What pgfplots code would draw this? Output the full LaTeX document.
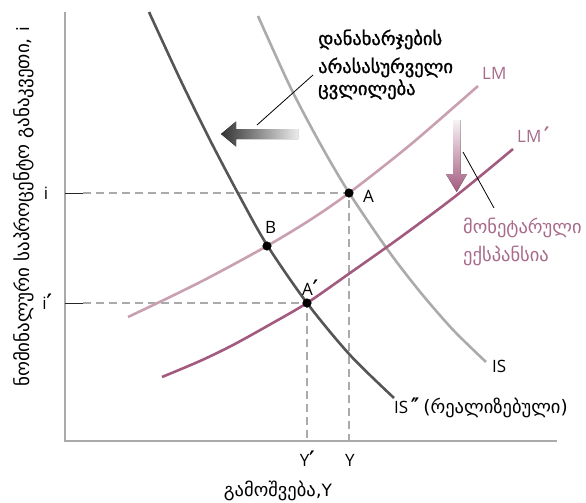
\documentclass[border=0pt]{standalone}
\usepackage{fontspec}
\setmainfont{Open Sans}
\newfontfamily\geo{DejaVu Sans}
\newfontfamily\geob[FakeBold=1.3]{DejaVu Sans}
\usepackage{pgfplots}
\pgfplotsset{compat=1.18}
\definecolor{lmlight}{HTML}{C9A0B2}
\definecolor{lmdark}{HTML}{A25A7E}
\definecolor{lmtext}{HTML}{A86A8A}
\definecolor{islight}{HTML}{ABABAB}
\definecolor{isdark}{HTML}{555555}
\definecolor{axisgray}{HTML}{AAAAAA}
\newcommand{\lat}{\fontsize{17}{20}\selectfont}
\newcommand{\gt}{\geo\fontsize{18.5}{22}\selectfont}
\newcommand{\gtb}{\geob\fontsize{18.5}{22}\selectfont}
\newcommand{\pr}{{\geob\fontsize{21}{22}\selectfont ′}}
\newcommand{\dpr}{{\geob\fontsize{21}{22}\selectfont ″}}
\begin{document}
\begin{tikzpicture}
\begin{axis}[x=1pt,y=1pt,xmin=0,xmax=586,ymin=0,ymax=503,y dir=reverse,hide axis,clip=false]
% axes
\draw[axisgray, line width=1.5pt] (axis cs:65,12) -- (axis cs:65,441) -- (axis cs:557,441);
% dashed guides
\draw[axisgray, dash pattern=on 8pt off 5pt, line width=1.2pt] (axis cs:83,193) -- (axis cs:349,193) -- (axis cs:349,441);
\draw[axisgray, dash pattern=on 8pt off 5pt, line width=1.2pt] (axis cs:83,303) -- (axis cs:307,303) -- (axis cs:307,441);
\draw[black!85, line width=1pt] (axis cs:65,193) -- (axis cs:83,193);
\draw[black!85, line width=1pt] (axis cs:65,303) -- (axis cs:83,303);
% curves
\addplot[islight, line width=2.6pt, smooth] coordinates {(258,16) (290,86.4) (320,143.4) (349,192.7) (388,250.2) (420,291.8) (453,329.8) (486,362)};
\addplot[isdark, line width=2.6pt, smooth] coordinates {(149,12) (180,79) (210,140) (240,197) (267,245) (307,303) (350,355) (394,398)};
\addplot[lmlight, line width=2.6pt, smooth] coordinates {(128,317) (170,297) (210,277) (267,246) (310,220) (349,193) (410,145) (478,86)};
\addplot[lmdark, line width=2.6pt, smooth] coordinates {(162,377) (200,361) (233,345) (270,324.5) (307,303) (350,273) (400,237.6) (457,195) (513,149)};
% points
\addplot[only marks, mark=*, mark size=4.3pt, black] coordinates {(349,193) (267,246) (307,303)};
% arrows
\fill[left color=black!80, right color=black!8] (axis cs:298,129) -- (axis cs:236,129) -- (axis cs:236,121.5) -- (axis cs:221,134) -- (axis cs:236,146.5) -- (axis cs:236,139) -- (axis cs:298,139) -- cycle;
\fill[top color=lmdark!8, bottom color=lmdark] (axis cs:453,120) -- (axis cs:460.5,120) -- (axis cs:460.5,174) -- (axis cs:467,174) -- (axis cs:456.7,192) -- (axis cs:446,174) -- (axis cs:453,174) -- cycle;
% leader lines
\draw[black, line width=0.8pt] (axis cs:257,125) -- (axis cs:313,75);
\draw[black, line width=0.8pt] (axis cs:463,152) -- (axis cs:494,208);
% labels
\node[anchor=base west, inner sep=0pt] at (axis cs:318,45) {\gtb დანახარჯების};
\node[anchor=base west, inner sep=0pt] at (axis cs:318,73) {\gtb არასასურველი};
\node[anchor=base west, inner sep=0pt] at (axis cs:318,95) {\gtb ცვლილება};
\node[anchor=base west, inner sep=0pt, text=lmtext] at (axis cs:463,233) {\gt მონეტარული};
\node[anchor=base west, inner sep=0pt, text=lmtext] at (axis cs:463,261) {\gt ექსპანსია};
\node[anchor=base west, inner sep=0pt, text=lmtext] at (axis cs:482,80) {\lat LM};
\node[anchor=base west, inner sep=0pt, text=lmtext] at (axis cs:517,142) {\lat LM\,\pr};
\node[anchor=base west, inner sep=0pt] at (axis cs:492,372) {\lat IS};
\node[anchor=base west, inner sep=0pt] at (axis cs:394,413) {\lat IS\,\dpr\ \gt (რეალიზებული)};
\node[anchor=base west, inner sep=0pt] at (axis cs:363,202) {\lat A};
\node[anchor=base west, inner sep=0pt] at (axis cs:265,233) {\lat B};
\node[anchor=base west, inner sep=0pt] at (axis cs:302,295) {\lat A\pr};
\node[anchor=base, inner sep=0pt] at (axis cs:46,199) {\lat i};
\node[anchor=base, inner sep=0pt] at (axis cs:47,309) {\lat i\pr};
\node[anchor=base, inner sep=0pt] at (axis cs:307,466) {\lat Y\pr};
\node[anchor=base, inner sep=0pt] at (axis cs:350,466) {\lat Y};
\node[anchor=base, inner sep=0pt] at (axis cs:278,496) {\gt გამოშვება,\lat Y};
\node[rotate=90, anchor=base, inner sep=0pt] at (axis cs:29,207) {\geo\fontsize{19}{22}\selectfont ნომინალური საპროცენტო განაკვეთი, \lat i};
\end{axis}
\pgfresetboundingbox
\useasboundingbox (0,0) rectangle (586pt,503pt);
\end{tikzpicture}
\end{document}
